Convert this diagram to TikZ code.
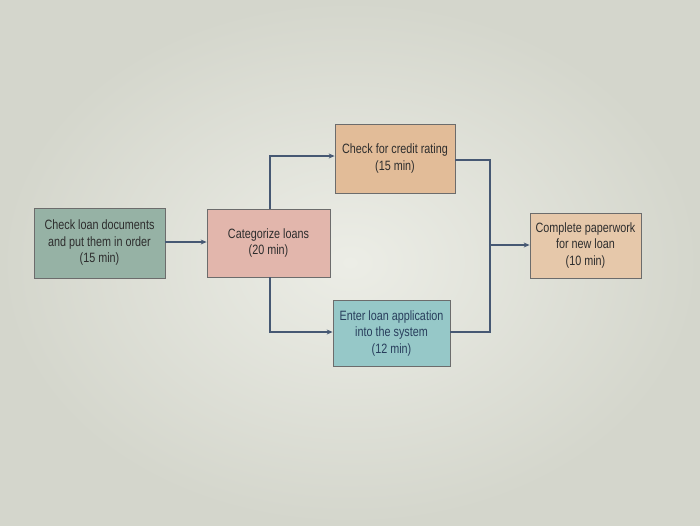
\documentclass[tikz,border=0pt]{standalone}
\usepackage{fontspec}
\setmainfont[FakeStretch=0.8]{Liberation Sans}
\usetikzlibrary{arrows.meta,calc}
\definecolor{bgin}{RGB}{236,237,230}
\definecolor{bgout}{RGB}{212,214,204}
\definecolor{boxA}{RGB}{150,178,165}
\definecolor{boxB}{RGB}{226,182,172}
\definecolor{boxC}{RGB}{226,188,152}
\definecolor{boxD}{RGB}{150,200,200}
\definecolor{boxE}{RGB}{230,200,170}
\definecolor{wire}{RGB}{70,88,115}
\definecolor{ink}{RGB}{45,45,45}
\definecolor{inkD}{RGB}{40,62,92}
\tikzset{
  stepbox/.style={draw=ink!70, line width=0.8pt, align=center, inner sep=0pt, text=ink,
    font=\fontsize{13.5}{16.5}\selectfont},
  wireline/.style={draw=wire, line width=1.6pt},
  arr/.style={wireline, -{Stealth[length=6pt,width=5pt]}},
}
\begin{document}
\begin{tikzpicture}[x=1pt,y=-1pt]
\shade[inner color=bgin, outer color=bgout] (0,0) rectangle (700,525);
\useasboundingbox (0,0) rectangle (700,525);
\node[stepbox, fill=boxA, minimum width=131pt, minimum height=70pt] (a) at (99.5,243) {Check loan documents\\and put them in order\\(15 min)};
\node[stepbox, fill=boxB, minimum width=123pt, minimum height=68pt] (b) at (268.5,243) {Categorize loans\\(20 min)};
\node[stepbox, fill=boxC, minimum width=120pt, minimum height=69pt] (c) at (395,158.5) {Check for credit rating\\(15 min)};
\node[stepbox, fill=boxD, text=inkD, minimum width=117pt, minimum height=66pt] (d) at (391.5,333) {Enter loan application\\into the system\\(12 min)};
\node[stepbox, fill=boxE, minimum width=111pt, minimum height=65pt] (e) at (585.5,245.5) {Complete paperwork\\for new loan\\(10 min)};
\coordinate (j1) at (490,160);
\coordinate (j2) at (490,332);
\coordinate (jm) at (490,245);
\draw[arr] (a.east |- 0,242) -- (b.west |- 0,242);
\draw[arr] (270,0 |- b.north) -- (270,156) -- (c.west |- 0,156);
\draw[arr] (270,0 |- b.south) -- (270,332) -- (d.west |- 0,332);
\draw[wireline] (c.east |- j1) -- (j1) -- (j2) -- (d.east |- j2);
\draw[arr] (jm) -- (e.west |- jm);
\end{tikzpicture}
\end{document}
